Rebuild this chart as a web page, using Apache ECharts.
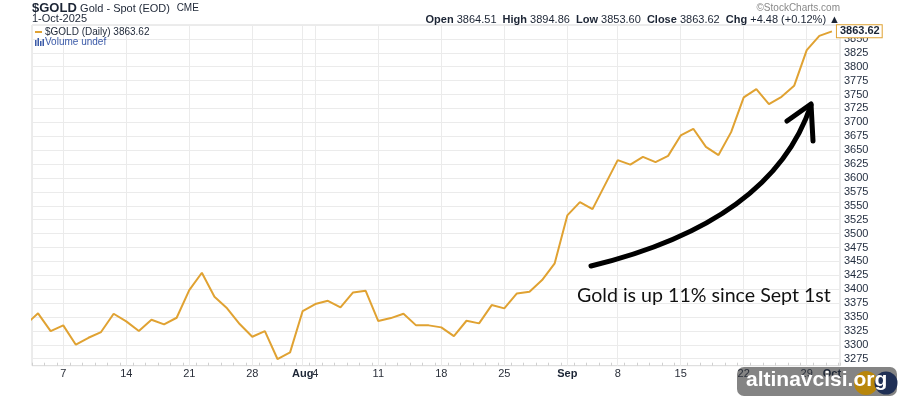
<!DOCTYPE html>
<html>
<head>
<meta charset="utf-8">
<script src="https://cdn.jsdelivr.net/npm/echarts@6/dist/echarts.min.js"></script>
<style>html,body{margin:0;padding:0;background:#fff}#c{width:900px;height:400px}</style>
</head>
<body>
<div id="c"></div>
<script>
// trading days Jul 1 – Oct 1, 2025
const dates = ['Jul 1','Jul 2','Jul 3','Jul 7','Jul 8','Jul 9','Jul 10','Jul 11',
  'Jul 14','Jul 15','Jul 16','Jul 17','Jul 18','Jul 21','Jul 22','Jul 23','Jul 24','Jul 25',
  'Jul 28','Jul 29','Jul 30','Jul 31','Aug 1','Aug 4','Aug 5','Aug 6','Aug 7','Aug 8',
  'Aug 11','Aug 12','Aug 13','Aug 14','Aug 15','Aug 18','Aug 19','Aug 20','Aug 21','Aug 22',
  'Aug 25','Aug 26','Aug 27','Aug 28','Aug 29','Sep 2','Sep 3','Sep 4','Sep 5',
  'Sep 8','Sep 9','Sep 10','Sep 11','Sep 12','Sep 15','Sep 16','Sep 17','Sep 18','Sep 19',
  'Sep 22','Sep 23','Sep 24','Sep 25','Sep 26','Sep 29','Sep 30','Oct 1'];
const closes = [3336,3356.6,3324.8,3335.0,3300.2,3312.7,3323.0,3355.9,
  3342.2,3324.8,3345.1,3336.8,3348.7,3398.5,3429.6,3386.4,3365.6,3337.4,
  3314.5,3324.8,3274.5,3286.5,3360.7,3373.3,3379.2,3367.4,3394.3,3397.2,
  3342.8,3348.1,3355.9,3335.0,3335.0,3331.4,3315.8,3343.3,3338.6,3371.5,
  3365.6,3392.5,3395.4,3416.4,3446.5,3532.7,3556.6,3544.0,3588.1,
  3632.1,3624.0,3638.0,3628.5,3639.7,3676.5,3688.4,3656.0,3641.1,3682.4,
  3744.8,3759.7,3732.8,3745.9,3765.6,3829.8,3855.5,3863.62];
// x-axis tick labels (index into dates -> text)
const tickIndex = [3, 8, 13, 18, 22, 23, 28, 33, 38, 43, 47, 52, 57, 62, 64];
const tickText  = ['7','14','21','28','Aug','4','11','18','25','Sep','8','15','22','29','Oct'];
const monthTicks = ['Aug','Sep','Oct'];
const gridIndex = [3, 8, 13, 18, 22, 23, 28, 33, 38, 43, 47, 52, 57, 62];
// header values
const ohlcLabels = ['Open','High','Low','Close','Chg'];
const ohlcValues = ['3864.51','3894.86','3853.60','3863.62','+4.48 (+0.12%)'];

const GOLD = '#e0a232';
const chart = echarts.init(document.getElementById('c'), null, {renderer:'canvas'});

const labelMap = {};
tickIndex.forEach((t,i)=>{labelMap[t]=tickText[i];});

let ohlcStr = ohlcLabels.map((l,i)=>'{b|'+l+'} '+ohlcValues[i]).join('  ') + ' \u25B2';

const G = [
    {type:'text', left: 32, top: 2, style:{text:'{a|$GOLD} {n|Gold - Spot (EOD)}  {s|CME}',
      rich:{a:{fontFamily:'Liberation Sans, Arial',fontSize:13,fontWeight:'bold',fill:'#1c2535'},
            n:{fontFamily:'Liberation Sans, Arial',fontSize:11,fill:'#1c2535'},
            s:{fontFamily:'Liberation Sans, Arial',fontSize:10,fill:'#1c2535'}}}},
    {type:'text', left: 32, top: 13, style:{text:'1-Oct-2025', font:'11px "Liberation Sans", Arial', fill:'#1c2535'}},
    {type:'line', shape:{x1:35,y1:32,x2:42,y2:32}, style:{stroke:GOLD, lineWidth:2}},
    {type:'text', left: 45, top: 27, style:{text:'$GOLD (Daily) ' + closes[closes.length-1].toFixed(2), font:'10px "Liberation Sans", Arial', fill:'#1c2535'}},
    {type:'rect', shape:{x:35,y:40,width:1.5,height:6}, style:{fill:'#3b5aa8'}},
    {type:'rect', shape:{x:37.5,y:38,width:1.5,height:8}, style:{fill:'#3b5aa8'}},
    {type:'rect', shape:{x:40,y:41,width:1.5,height:5}, style:{fill:'#3b5aa8'}},
    {type:'rect', shape:{x:42.5,y:39,width:1.5,height:7}, style:{fill:'#3b5aa8'}},
    {type:'text', left: 45, top: 37.5, style:{text:'Volume undef', font:'10px "Liberation Sans", Arial', fill:'#3b5aa8'}},
    {type:'text', right: 60, top: 3, style:{text:'\u00A9StockCharts.com', font:'10px "Liberation Sans", Arial', fill:'#888'}},
    {type:'text', right: 60, top: 14, style:{text: ohlcStr, font:'11px "Liberation Sans", Arial', fill:'#1c2535',
      rich:{b:{fontWeight:'bold', fontSize:11, fontFamily:'Liberation Sans, Arial', fill:'#1c2535'}}}},
    // hand-drawn arrow annotation
    {type:'bezierCurve', z: 100, shape:{x1:591,y1:266,cpx1:772,cpy1:222,x2:811,y2:105}, style:{stroke:'#000', lineWidth:5, lineCap:'round', fill:null}},
    {type:'polyline', z: 100, shape:{points:[[787,121],[811,104],[813,141]]}, style:{stroke:'#000', lineWidth:5, lineCap:'round', lineJoin:'round', fill:null}},
    {type:'text', left: 577, top: 286, style:{text:'Gold is up 11% since Sept 1st', font:'19.6px Lato', fill:'#111'}},
    // watermark (drawn under the axis labels)
    {type:'rect', z: 10, shape:{x:737,y:367,width:160,height:29,r:7}, style:{fill:'rgba(110,110,110,0.85)'}},
    {type:'circle', z: 11, shape:{cx:866,cy:383,r:12}, style:{fill:'#b8860b'}},
    {type:'circle', z: 11, shape:{cx:886,cy:383,r:11.5}, style:{fill:'#1f2f55'}},
    {type:'text', z: 100, left: 746, top: 370, style:{text:'altinavcisi.org', font:'bold 21px "Liberation Sans", Arial', fill:'#fff'}}
];
G.forEach(g=>{ if (g.z === undefined) g.z = 100; });

chart.setOption({
  animation: false,
  backgroundColor: '#fff',
  grid: {left: 32, right: 60, top: 25, bottom: 34.3, show: true, borderColor: '#d8d8d8', borderWidth: 1},
  xAxis: [{
    type: 'value', min: 0.52, max: 64.64, z: 50,
    axisLine: {show: false},
    axisTick: {show: false, customValues: gridIndex},
    splitLine: {show: true, lineStyle: {color: '#ebebeb', width: 1}},
    axisLabel: {
      customValues: tickIndex,
      margin: 3,
      fontFamily: 'Liberation Sans, Arial, sans-serif', fontSize: 11, color: '#2a2f3a',
      formatter: function(v){ const t = labelMap[Math.round(v)]; if (t===undefined) return ''; return monthTicks.indexOf(t)>=0 ? '{m|'+t+'}' : t; },
      rich: {m: {fontWeight: 'bold', fontSize: 11, color: '#1c2535', fontFamily: 'Liberation Sans, Arial, sans-serif'}}
    }
  },{
    type: 'value', min: 0.52, max: 64.64, position: 'bottom',
    axisLine: {show: false}, splitLine: {show: false}, axisLabel: {show: false},
    axisTick: {show: true, inside: true, length: 3, interval: 1, lineStyle: {color: '#d0d0d0'}},
    interval: 1
  }],
  yAxis: {
    type: 'value', position: 'right', min: 3262.5, max: 3875, interval: 12.5,
    axisLine: {show: false}, axisTick: {show: false},
    splitLine: {show: true, lineStyle: {color: ['transparent', '#ebebeb'], width: 1}},
    axisLabel: {
      margin: 4, fontFamily: 'Liberation Sans, Arial, sans-serif', fontSize: 11, color: '#1f2a3c',
      formatter: function(v){ return (v % 25 === 0 && v >= 3275 && v <= 3850) ? String(v) : ''; }
    }
  },
  series: [{
    type: 'line', xAxisIndex: 0, z: 60,
    data: closes.map((v,i)=>[i,v]),
    showSymbol: false, symbol: 'none',
    lineStyle: {color: GOLD, width: 2},
    clip: true,
    endLabel: {
      show: true, distance: 5,
      formatter: function(p){ return p.value[1].toFixed(2); },
      fontFamily: 'Liberation Sans, Arial, sans-serif', fontSize: 11, fontWeight: 'bold', color: '#1c2535',
      backgroundColor: '#fff', borderColor: GOLD, borderWidth: 1, padding: [1, 2, 0, 3]
    }
  }],
  graphic: G
});
</script>
</body>
</html>
